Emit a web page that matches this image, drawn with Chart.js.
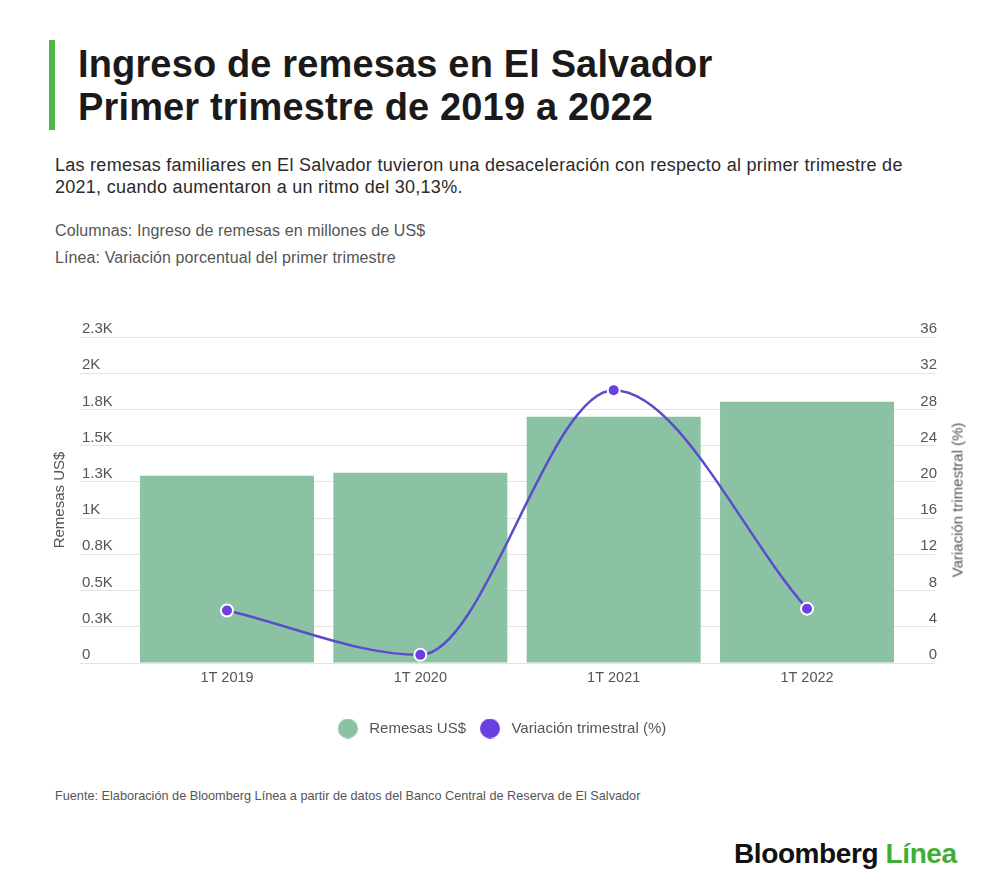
<!DOCTYPE html>
<html>
<head>
<meta charset="utf-8">
<script src="https://cdn.jsdelivr.net/npm/chart.js@4.4.1/dist/chart.umd.min.js"></script>
<style>
  html, body { margin:0; padding:0; background:#fff; }
  body { width:1000px; height:892px; position:relative; overflow:hidden; font-family:'Liberation Sans', Arial, sans-serif; }
  .abs { position:absolute; white-space:nowrap; }
  #bar { left:49px; top:40px; width:6px; height:90px; background:#4db848; }
  #title { left:78px; top:43px; font-size:38px; line-height:42.5px; font-weight:700; color:#1a1a1a; letter-spacing:0.15px; }
  #sub { left:55px; top:154px; font-size:18px; line-height:22px; color:#2a2a2a; letter-spacing:0.27px; }
  .note { left:55px; font-size:16px; line-height:18px; color:#555; letter-spacing:0.1px; }
  #n1 { top:222px; }
  #n2 { top:249px; }
  #chartBox { left:0; top:290px; width:1000px; height:456px; }
  #rtitle { left:957px; top:500px; font-size:15px; color:#555; transform:translate(-50%,-50%) rotate(-90deg); }
  #src { left:55px; top:789px; font-size:12.7px; color:#555; letter-spacing:0px; }
  #logo { left:734px; top:838px; font-size:28px; font-weight:700; letter-spacing:-0.4px; color:#111; }
  #logo span { color:#3fae35; }
</style>
</head>
<body>
<div id="bar" class="abs"></div>
<div id="title" class="abs">Ingreso de remesas en El Salvador<br>Primer trimestre de 2019 a 2022</div>
<div id="sub" class="abs">Las remesas familiares en El Salvador tuvieron una desaceleración con respecto al primer trimestre de<br>2021, cuando aumentaron a un ritmo del 30,13%.</div>
<div id="n1" class="abs note">Columnas: Ingreso de remesas en millones de US$</div>
<div id="n2" class="abs note">Línea: Variación porcentual del primer trimestre</div>
<div id="chartBox" class="abs"><canvas id="c"></canvas></div>
<div id="rtitle" class="abs">Variación trimestral (%)</div>
<div id="src" class="abs">Fuente: Elaboración de Bloomberg Línea a partir de datos del Banco Central de Reserva de El Salvador</div>
<div id="logo" class="abs">Bloomberg <span>Línea</span></div>
<script>
// ---- data ----
const categories = ['1T 2019', '1T 2020', '1T 2021', '1T 2022'];
const remesas = [1293, 1313, 1700, 1803];          // millones de US$
const variacion = [5.8, 0.9, 30.13, 6.0];          // %
const leftTicks = [0, 250, 500, 750, 1000, 1250, 1500, 1750, 2000, 2250];
const leftTickLabels = ['0', '0.3K', '0.5K', '0.8K', '1K', '1.3K', '1.5K', '1.8K', '2K', '2.3K'];
const rightTicks = [0, 4, 8, 12, 16, 20, 24, 28, 32, 36];

const FONT = "'Liberation Sans', Arial, sans-serif";
Chart.defaults.font.family = FONT;
Chart.defaults.font.size = 15;
Chart.defaults.color = '#555';

const barColor = '#8cc2a4';
const lineColor = '#5a4ccc';
const pointColor = '#6b40e0';

// legend marker images (circle of 20px)
function dot(color) {
  const cv = document.createElement('canvas');
  cv.width = 20; cv.height = 20;
  const g = cv.getContext('2d');
  g.fillStyle = color;
  g.beginPath(); g.arc(10, 10, 10, 0, Math.PI * 2); g.fill();
  return cv;
}
const legendDots = [dot(barColor), dot(pointColor)];

new Chart(document.getElementById('c'), {
  type: 'bar',
  data: {
    datasets: [
      {
        type: 'bar',
        label: 'Remesas US$',
        data: categories.map((c, i) => ({ x: i, y: remesas[i] })),
        backgroundColor: barColor,
        borderWidth: 0,
        barPercentage: 0.9,
        categoryPercentage: 1.0,
        yAxisID: 'y',
        order: 2
      },
      {
        type: 'line',
        label: 'Variación trimestral (%)',
        data: categories.map((c, i) => ({ x: i, y: variacion[i] })),
        borderColor: lineColor,
        backgroundColor: pointColor,
        borderWidth: 2.5,
        cubicInterpolationMode: 'monotone',
        pointRadius: 6,
        pointHoverRadius: 6,
        pointBackgroundColor: pointColor,
        pointBorderColor: '#ffffff',
        pointBorderWidth: 2,
        fill: false,
        yAxisID: 'y2',
        order: 1
      }
    ]
  },
  options: {
    responsive: true,
    maintainAspectRatio: false,
    animation: false,
    layout: { padding: { left: 51, right: 51, top: 47, bottom: 0 } },
    scales: {
      x: {
        type: 'linear',
        min: -0.7604,
        max: 3.662,
        offset: false,
        grid: { display: false, drawTicks: false },
        border: { display: false },
        afterBuildTicks: (s) => { s.ticks = categories.map((c, i) => ({ value: i })); },
        afterFit: (s) => { s.height = 48; },
        ticks: {
          autoSkip: false,
          maxRotation: 0,
          padding: 6,
          font: { size: 14.5 },
          color: '#555',
          callback: (v) => categories[v]
        }
      },
      y: {
        type: 'linear',
        position: 'left',
        min: 0,
        max: 2250,
        afterBuildTicks: (s) => { s.ticks = leftTicks.map(v => ({ value: v })); },
        afterFit: (s) => { s.width = 29; },
        grid: { color: '#e3e3e3', lineWidth: 1, drawTicks: false },
        border: { display: false },
        title: { display: true, text: 'Remesas US$', color: '#555', font: { size: 15 }, padding: 0 },
        ticks: {
          mirror: true,
          padding: 2,
          labelOffset: -8,
          color: '#555',
          font: { size: 15 },
          callback: (v, i) => leftTickLabels[i]
        }
      },
      y2: {
        type: 'linear',
        position: 'right',
        min: 0,
        max: 36,
        afterBuildTicks: (s) => { s.ticks = rightTicks.map(v => ({ value: v })); },
        afterFit: (s) => { s.width = 14; },
        grid: { drawOnChartArea: false, drawTicks: false },
        border: { display: false },
        ticks: {
          mirror: true,
          padding: 2,
          labelOffset: -8,
          color: '#555',
          font: { size: 15 },
          callback: (v) => String(v)
        }
      }
    },
    plugins: {
      tooltip: { enabled: false },
      legend: {
        position: 'bottom',
        labels: {
          usePointStyle: true,
          pointStyleWidth: 28,
          boxHeight: 15,
          padding: 10,
          color: '#555',
          font: { size: 15 },
          sort: (a, b) => a.datasetIndex - b.datasetIndex,
          generateLabels: (chart) => {
            const items = Chart.defaults.plugins.legend.labels.generateLabels(chart);
            items.forEach(it => { it.lineWidth = 0; it.strokeStyle = 'rgba(0,0,0,0)'; it.pointStyle = legendDots[it.datasetIndex]; });
            return items;
          }
        }
      }
    }
  }
});
</script>
</body>
</html>
